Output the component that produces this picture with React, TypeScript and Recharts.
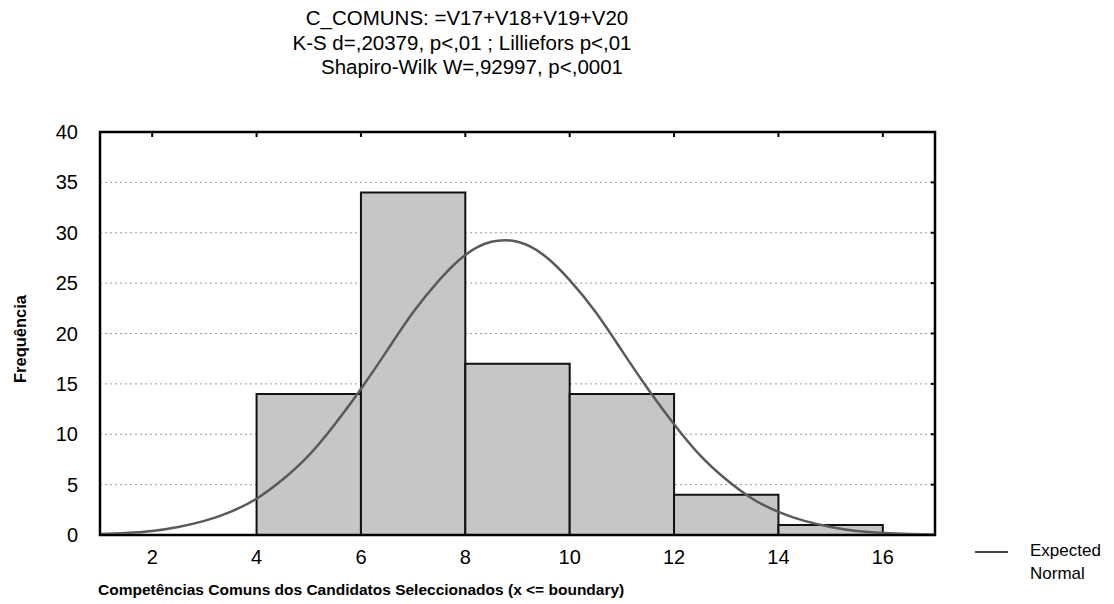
import React from "react";
import {
  ComposedChart,
  Line,
  XAxis,
  YAxis,
  CartesianGrid,
  ReferenceArea,
  ReferenceLine,
} from "recharts";

// histogram bins (x <= boundary)
const binStart = [4, 6, 8, 10, 12, 14];
const binEnd = [6, 8, 10, 12, 14, 16];
const binCount = [14, 34, 17, 14, 4, 1];

// expected normal curve
const curveX = [
  1, 1.5, 2, 2.5, 3, 3.5, 4, 4.5, 5, 5.5, 6, 6.5, 7, 7.5, 8, 8.5, 9, 9.5, 10,
  10.5, 11, 11.5, 12, 12.5, 13, 13.5, 14, 14.5, 15, 15.5, 16, 16.5, 17,
];
const curveY = [
  0.1, 0.2, 0.4, 0.8, 1.4, 2.3, 3.6, 5.5, 7.9, 11.0, 14.5, 18.3, 22.1, 25.3,
  27.8, 29.1, 29.1, 27.8, 25.3, 22.1, 18.3, 14.5, 11.0, 7.9, 5.5, 3.6, 2.3, 1.4,
  0.8, 0.4, 0.2, 0.1, 0.05,
];

const xTicks = [2, 4, 6, 8, 10, 12, 14, 16];
const yTicks = [0, 5, 10, 15, 20, 25, 30, 35, 40];
const xDomain = [1, 17];
const yDomain = [0, 40];

const titleLines = [
  "C_COMUNS: =V17+V18+V19+V20",
  "K-S d=,20379, p<,01 ; Lilliefors p<,01",
  "Shapiro-Wilk W=,92997, p<,0001",
];

const FONT = "'Liberation Sans', Arial, sans-serif";

const curveData = curveX.map((x, i) => ({ x, y: curveY[i] }));

export default function App() {
  const titlePos = [
    { cx: 467, cy: 18 },
    { cx: 462, cy: 43 },
    { cx: 472, cy: 67 },
  ];
  return (
    <div
      style={{
        position: "absolute",
        left: 0,
        top: 0,
        width: 1114,
        height: 604,
        background: "#fff",
        fontFamily: FONT,
        color: "#000",
        overflow: "hidden",
      }}
    >
      {titleLines.map((t, i) => (
        <div
          key={i}
          style={{
            position: "absolute",
            left: titlePos[i].cx,
            top: titlePos[i].cy - 12,
            transform: "translateX(-50%)",
            whiteSpace: "nowrap",
            fontSize: 20.5,
            lineHeight: "24px",
          }}
        >
          {t}
        </div>
      ))}

      <ComposedChart
        width={1114}
        height={604}
        data={curveData}
        margin={{ top: 132, right: 179, bottom: 0, left: 40 }}
        style={{ position: "absolute", left: 0, top: 0 }}
      >
        <CartesianGrid
          vertical={false}
          stroke="#9a9a9a"
          strokeDasharray="2 3"
        />
        <XAxis
          dataKey="x"
          type="number"
          domain={xDomain}
          ticks={xTicks}
          allowDataOverflow
          height={69}
          axisLine={{ stroke: "#000", strokeWidth: 2 }}
          tickLine={false}
          tickMargin={9}
          tick={{ fill: "#000", fontSize: 20, fontFamily: FONT }}
        />
        <YAxis
          type="number"
          domain={yDomain}
          ticks={yTicks}
          width={60}
          axisLine={{ stroke: "#000", strokeWidth: 2 }}
          tickLine={false}
          tickMargin={16}
          tick={{ fill: "#000", fontSize: 20, fontFamily: FONT }}
        />
        {binCount.map((c, i) => (
          <ReferenceArea
            key={i}
            x1={binStart[i]}
            x2={binEnd[i]}
            y1={0}
            y2={c}
            fill="#c6c6c6"
            fillOpacity={1}
            stroke="#111"
            strokeWidth={2}
          />
        ))}
        {/* plot frame */}
        <ReferenceArea
          x1={xDomain[0]}
          x2={xDomain[1]}
          y1={yDomain[0]}
          y2={yDomain[1]}
          fill="none"
          stroke="#000"
          strokeWidth={2.5}
        />
        {/* small inward ticks on top and right edges */}
        {xTicks.map((t) => (
          <ReferenceLine
            key={"t" + t}
            segment={[
              { x: t, y: 40 },
              { x: t, y: 39.5 },
            ]}
            stroke="#000"
            strokeWidth={2}
          />
        ))}
        {yTicks.slice(1, -1).map((t) => (
          <ReferenceLine
            key={"r" + t}
            segment={[
              { x: 17, y: t },
              { x: 16.92, y: t },
            ]}
            stroke="#000"
            strokeWidth={2}
          />
        ))}
        <Line
          dataKey="y"
          type="natural"
          stroke="#5a5a5a"
          strokeWidth={2.5}
          dot={false}
          isAnimationActive={false}
        />
      </ComposedChart>

      <div
        style={{
          position: "absolute",
          left: 20,
          top: 339,
          transform: "translate(-50%, -50%) rotate(-90deg)",
          whiteSpace: "nowrap",
          fontSize: 16.5,
          fontWeight: "bold",
        }}
      >
        Frequência
      </div>
      <div
        style={{
          position: "absolute",
          left: 98,
          top: 580,
          whiteSpace: "nowrap",
          fontSize: 15.5,
          fontWeight: "bold",
          lineHeight: "20px",
        }}
      >
        Competências Comuns dos Candidatos Seleccionados (x &lt;= boundary)
      </div>

      <div
        style={{
          position: "absolute",
          left: 975,
          top: 551,
          width: 33,
          height: 2,
          background: "#444",
        }}
      />
      <div
        style={{
          position: "absolute",
          left: 1030,
          top: 539,
          fontSize: 17,
          lineHeight: "23px",
        }}
      >
        Expected
        <br />
        Normal
      </div>
    </div>
  );
}
